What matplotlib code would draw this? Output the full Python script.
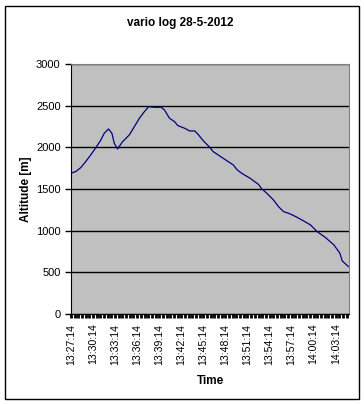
import matplotlib
matplotlib.use("Agg")
import matplotlib.pyplot as plt
from matplotlib.patches import Rectangle
from matplotlib.ticker import FixedLocator, MultipleLocator

plt.rcParams['font.family'] = ['Liberation Sans', 'DejaVu Sans']

# altitude log
times = ["13:27:14", "13:27:52", "13:28:34", "13:29:14", "13:29:55", "13:30:37",
         "13:31:18", "13:31:45", "13:32:20", "13:32:48", "13:33:07", "13:33:34",
         "13:34:15", "13:35:10", "13:35:51", "13:36:32", "13:37:13", "13:37:48",
         "13:38:35", "13:39:30", "13:39:57", "13:40:38", "13:41:19", "13:41:46",
         "13:42:42", "13:43:22", "13:44:04", "13:44:31", "13:45:12", "13:46:01",
         "13:46:34", "13:47:56", "13:49:18", "13:49:51", "13:50:27", "13:51:35",
         "13:52:43", "13:53:11", "13:53:52", "13:54:46", "13:55:27", "13:56:08",
         "13:57:03", "13:57:58", "13:58:52", "13:59:48", "14:00:42", "14:01:51",
         "14:02:59", "14:03:48", "14:04:07", "14:04:57"]
altitude = [1690, 1708, 1756, 1828, 1908, 1996,
            2088, 2168, 2220, 2168, 2048, 1980,
            2068, 2148, 2248, 2348, 2428, 2488,
            2480, 2480, 2448, 2348, 2308, 2260,
            2228, 2196, 2196, 2156, 2080, 2008,
            1948, 1868, 1788, 1728, 1688, 1628,
            1556, 1500, 1448, 1368, 1288, 1228,
            1200, 1160, 1116, 1068, 988, 916,
            828, 728, 636, 568]
tick_labels = ["13:27:14", "13:30:14", "13:33:14", "13:36:14", "13:39:14",
               "13:42:14", "13:45:14", "13:48:14", "13:51:14", "13:54:14",
               "13:57:14", "14:00:14", "14:03:14"]


def to_min(s):
    h, m, sec = (int(v) for v in s.split(":"))
    return h * 60 + m + sec / 60.0


t0 = to_min(times[0])
x = [to_min(s) - t0 for s in times]
xticks = [to_min(s) - t0 for s in tick_labels]

fig = plt.figure(figsize=(3.64, 4.05), dpi=100)
fig.patches.append(Rectangle((5 / 364, 6 / 405), 354 / 364, 393 / 405,
                             transform=fig.transFigure, fill=False,
                             edgecolor="black", linewidth=1))

ax = fig.add_axes([0.195, 0.225, 0.764, 0.617])
ax.set_facecolor("#c0c0c0")
ax.plot(x, altitude, color="#000080", linewidth=0.9)

ax.set_xlim(0, x[-1] + 0.1)
ax.set_ylim(0, 3000)
ax.yaxis.set_major_locator(MultipleLocator(500))
ax.grid(axis="y", color="black", linewidth=1)
ax.set_axisbelow(True)

ax.xaxis.set_major_locator(FixedLocator(xticks))
ax.set_xticklabels(tick_labels, rotation=90)
ax.xaxis.set_minor_locator(MultipleLocator(0.5))
ax.tick_params(axis="x", which="both", direction="out", length=3, width=2,
               labelsize=7.6, pad=4)
ax.tick_params(axis="y", direction="out", length=4, width=1, labelsize=8)

for side in ("top", "right"):
    ax.spines[side].set_color("#808080")
for side in ("left", "bottom"):
    ax.spines[side].set_color("black")

fig.text(180 / 364, 1 - 23 / 405, "vario log 28-5-2012", fontsize=8.5,
         fontweight="bold", ha="center", va="center")
ax.set_xlabel("Time", fontsize=8.5, fontweight="bold")
ax.set_ylabel("Altitude [m]", fontsize=8.5, fontweight="bold")
ax.xaxis.set_label_coords(0.5, -0.245)
ax.yaxis.set_label_coords(-0.14, 0.5)

fig.savefig("out.png", dpi=100)
